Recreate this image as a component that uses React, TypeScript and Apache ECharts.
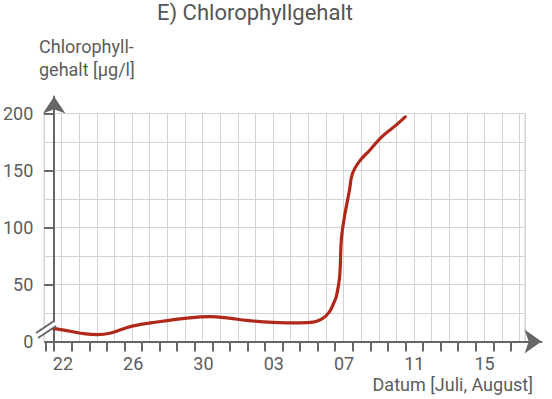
import React, { useEffect, useRef } from 'react';
import * as echarts from 'echarts';

// Tick labels on the date axis (days: 22 July ... 15 August)
const dateLabels = ['22', '26', '30', '03', '07', '11', '15'];
// Offset of each labelled date in days after 22 July
const labelDayOffsets = [0, 4, 8, 12, 16, 20, 24];
// Curve samples: days after 22 July, chlorophyll in µg/l
const dayOffset = [-0.5, 0.5, 1.2, 2, 2.8, 4, 5.5, 7, 8.4, 9.5, 10.5, 12, 13.5, 14.3, 14.8, 15.2, 15.45, 15.6, 15.78, 15.88, 16.06, 16.34, 16.5, 16.9, 17.5, 18.2, 19, 19.5];
const chlorophyll = [11.5, 9, 7, 6, 7.5, 13.5, 17.3, 20.3, 21.8, 20.5, 18.5, 16.8, 16.3, 17, 20, 26, 34, 40, 57, 90, 110, 133, 147, 158, 168, 180, 190, 197];
const yTickValues = [0, 50, 100, 150, 200];
const ySplitInterval = 25;

export default function App() {
  const ref = useRef<HTMLDivElement>(null);

  useEffect(() => {
    const chart = echarts.init(ref.current!, null, { renderer: 'svg' });
    const font = 'Roboto, sans-serif';
    const textColor = '#5c5c5c';
    const axisColor = '#666666';
    const gridColor = '#d3d3d3';
    const shift = 0.5; // day bands: ticks at half-days

    const dayTicks: number[] = [];
    for (let e = -0.5; e <= 26.01; e += e < 0 ? 0.5 : 1) dayTicks.push(e);

    chart.setOption({
      animation: false,
      title: {
        text: 'E) Chlorophyllgehalt',
        left: 157,
        top: 1,
        padding: 0,
        textStyle: { fontFamily: font, fontSize: 22, fontWeight: 'normal', color: '#555555' },
      },
      grid: [
        { left: 44, right: 27, top: 113.5, bottom: 57.5, show: true, borderColor: gridColor, borderWidth: 1 },
        { left: 44, right: 10.5, top: 96.5, bottom: 57.5 },
      ],
      xAxis: [
        {
          type: 'value', gridIndex: 0, min: -0.5, max: 26.8, interval: 1,
          axisLine: { show: false }, axisTick: { show: false }, axisLabel: { show: false },
          splitLine: { show: true, lineStyle: { color: gridColor, width: 1 } },
        },
        {
          type: 'value', gridIndex: 1, min: -0.5, max: 27.74, z: 5,
          axisLine: {
            show: true, symbol: ['none', 'arrow'], symbolSize: [18, 17],
            lineStyle: { color: axisColor, width: 2 },
          },
          axisTick: {
            show: true, length: 10, customValues: dayTicks,
            lineStyle: { color: axisColor, width: 2 },
          },
          axisLabel: {
            show: true, margin: 13, fontFamily: font, fontSize: 18, color: textColor,
            customValues: labelDayOffsets.map((d) => d + shift),
            formatter: (v: number) => {
              const i = labelDayOffsets.indexOf(Math.round(v - shift));
              return i >= 0 ? dateLabels[i] : '';
            },
          },
          splitLine: { show: false },
        },
      ],
      yAxis: [
        {
          type: 'value', gridIndex: 0, min: 0, max: 200, interval: ySplitInterval,
          axisLine: { show: false }, axisTick: { show: false }, axisLabel: { show: false },
          splitLine: { show: true, lineStyle: { color: gridColor, width: 1 } },
        },
        {
          type: 'value', gridIndex: 1, min: 0, max: 214.9, z: 5,
          axisLine: {
            show: true, symbol: ['none', 'arrow'], symbolSize: [17, 17],
            lineStyle: { color: axisColor, width: 2 },
          },
          axisTick: {
            show: true, length: 10, customValues: yTickValues,
            lineStyle: { color: axisColor, width: 2 },
          },
          axisLabel: {
            show: true, margin: 12, fontFamily: font, fontSize: 18, color: textColor,
            customValues: yTickValues,
          },
          splitLine: { show: false },
        },
      ],
      series: [
        {
          type: 'line', xAxisIndex: 0, yAxisIndex: 0,
          data: dayOffset.map((d, i) => [d + shift, chlorophyll[i]]),
          showSymbol: false, smooth: 0.4,
          lineStyle: { color: '#b0281a', width: 3.2, cap: 'round', join: 'round' },
          z: 10,
        },
      ],
      graphic: [
        {
          type: 'text', left: 39, top: 35, z: 20,
          style: { text: 'Chlorophyll-\ngehalt [µg/l]', fontFamily: font, fontSize: 18, lineHeight: 23, fill: textColor },
        },
        {
          type: 'text', right: 19, top: 375, z: 20,
          style: { text: 'Datum [Juli, August]', fontFamily: font, fontSize: 18, fill: textColor },
        },
        {
          type: 'polygon', z: 30,
          shape: { points: [[36, 333], [54, 321], [56, 326], [38, 338]] },
          style: { fill: '#ffffff' },
        },
        {
          type: 'line', z: 31,
          shape: { x1: 36, y1: 333, x2: 54, y2: 321 },
          style: { stroke: axisColor, lineWidth: 2 },
        },
        {
          type: 'line', z: 31,
          shape: { x1: 38, y1: 338, x2: 56, y2: 326 },
          style: { stroke: axisColor, lineWidth: 2 },
        },
      ],
    });
    return () => chart.dispose();
  }, []);

  return <div ref={ref} style={{ width: 552, height: 399, position: 'absolute', left: 0, top: 0 }} />;
}
